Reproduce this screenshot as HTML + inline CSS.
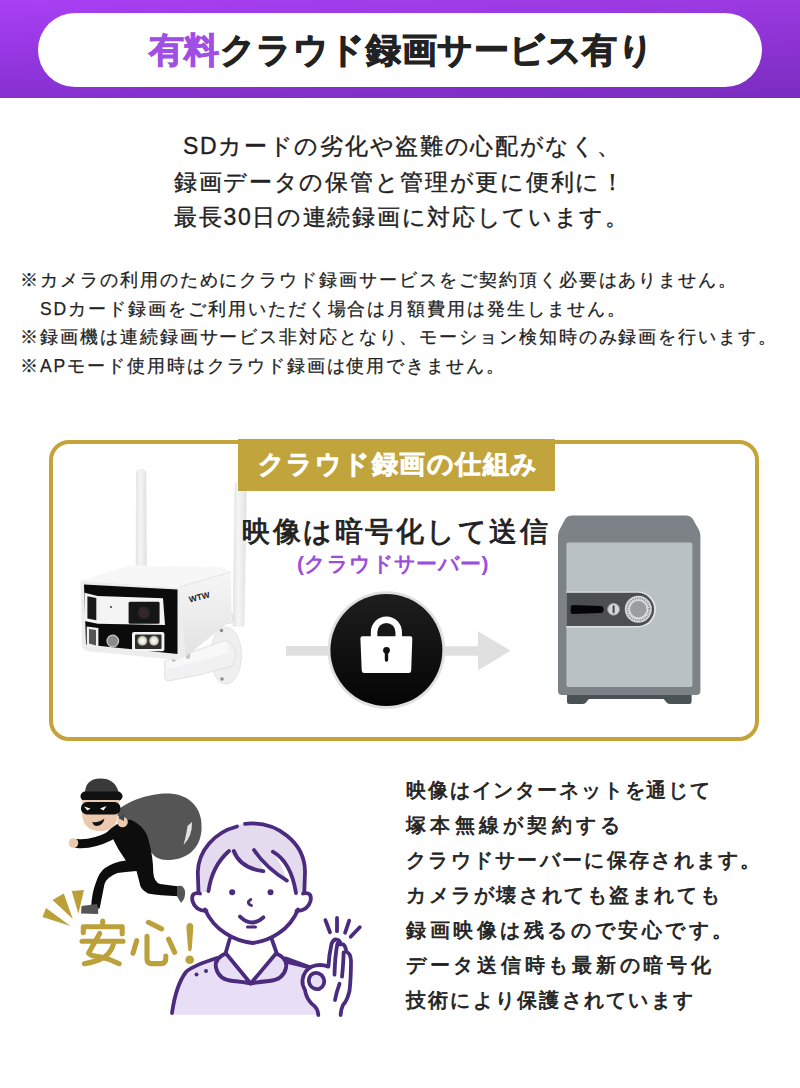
<!DOCTYPE html>
<html lang="ja"><head><meta charset="utf-8">
<style>
html,body{margin:0;padding:0;background:#fff;}
body{width:800px;height:1088px;position:relative;overflow:hidden;font-family:"Liberation Sans",sans-serif;color:#222;}
.abs{position:absolute;}
#banner{left:0;top:0;width:800px;height:98px;background:linear-gradient(to right,rgba(20,0,40,0) 0%,rgba(20,0,40,0.1) 100%),linear-gradient(to bottom,#a940f4 0%,#9a38e6 45%,#8631d0 100%);}
#pill{left:38px;top:12.5px;width:724px;height:74.5px;border-radius:38px;background:#fff;}
#title{left:148.5px;top:12px;height:76px;line-height:76px;font-size:35px;font-weight:bold;color:#222;white-space:nowrap;letter-spacing:0.58px;-webkit-text-stroke:1px currentColor;}
#title span{color:#a04ee4;}
.p1{font-size:23px;letter-spacing:1.7px;white-space:nowrap;color:#222;-webkit-text-stroke:0.35px #222;}
.note{left:20px;font-size:17.5px;letter-spacing:1.95px;white-space:nowrap;color:#222;-webkit-text-stroke:0.25px #222;}
#box{left:49px;top:439.5px;width:702px;height:293.5px;border:4px solid #c4a43a;border-radius:20px;}
#tab{left:238px;top:439px;width:316.5px;height:51.5px;background:#c2a43c;color:#fff;font-size:26px;font-weight:normal;-webkit-text-stroke:1.7px #fff;line-height:51px;text-indent:19.5px;letter-spacing:1.5px;white-space:nowrap;}
#enc{left:242px;top:512.5px;font-size:28px;font-weight:normal;-webkit-text-stroke:0.9px #222;letter-spacing:2.5px;white-space:nowrap;color:#222;}
#srv{left:297px;top:550px;font-size:21px;letter-spacing:0.4px;font-weight:bold;white-space:nowrap;color:#9b4ddb;}
.r{left:406px;font-size:20px;font-weight:normal;white-space:nowrap;color:#222;letter-spacing:0.9px;-webkit-text-stroke:0.75px #222;}
#anshin{left:77px;top:910px;font-size:52px;font-weight:bold;color:#bba03a;white-space:nowrap;}
</style></head><body>
<div id="banner" class="abs"></div>
<div id="pill" class="abs"></div>
<div id="title" class="abs"><span>有料</span>クラウド録画サービス有り</div>

<div class="abs p1" style="top:131px;left:183px">SDカードの劣化や盗難の心配がなく、</div>
<div class="abs p1" style="top:166.8px;left:174px">録画データの保管と管理が更に便利に！</div>
<div class="abs p1" style="top:201.8px;left:174px">最長30日の連続録画に対応しています。</div>

<div class="abs note" style="top:268px">※カメラの利用のためにクラウド録画サービスをご契約頂く必要はありません。</div>
<div class="abs note" style="top:296.7px">　SDカード録画をご利用いただく場合は月額費用は発生しません。</div>
<div class="abs note" style="top:325.4px">※録画機は連続録画サービス非対応となり、モーション検知時のみ録画を行います。</div>
<div class="abs note" style="top:354.1px">※APモード使用時はクラウド録画は使用できません。</div>

<div id="box" class="abs"></div>
<svg id="gfx" class="abs" style="left:0;top:0" width="800" height="1088" viewBox="0 0 800 1088">
<defs>
<linearGradient id="lockg" x1="0" y1="0" x2="0" y2="1"><stop offset="0" stop-color="#1e1e1e"/><stop offset="1" stop-color="#050505"/></linearGradient>
</defs>
<!-- camera -->
<defs>
<linearGradient id="antg" x1="0" y1="0" x2="1" y2="0"><stop offset="0" stop-color="#e2e4e6"/><stop offset="0.4" stop-color="#f4f5f7"/><stop offset="1" stop-color="#e0e2e4"/></linearGradient>
<linearGradient id="sideg" x1="0" y1="0" x2="0" y2="1"><stop offset="0" stop-color="#f6f6f6"/><stop offset="1" stop-color="#e2e2e2"/></linearGradient>
<radialGradient id="ledg"><stop offset="0" stop-color="#ffffff"/><stop offset="0.6" stop-color="#e8e8d8"/><stop offset="1" stop-color="#9a9a90"/></radialGradient>
</defs>
<!-- left antenna -->
<path d="M136.5,474 Q136.5,469.5 141.2,469.5 Q146,469.5 146,474 L146.5,572 H136 Z" fill="url(#antg)" stroke="#dcdee0" stroke-width="0.5"/>
<!-- right antenna -->
<path d="M235,486 Q235.5,481 241,481 Q246.5,481.5 246.5,486 L244,626 H233 Z" fill="url(#antg)" stroke="#dcdee0" stroke-width="0.5"/>
<ellipse cx="229" cy="618" rx="4" ry="5.5" fill="#f2f2f2" stroke="#cfcfcf" stroke-width="0.7"/>
<!-- wall mount plate -->
<ellipse cx="226" cy="655.5" rx="15.5" ry="28.5" fill="#efefef" stroke="#dedede" stroke-width="0.8"/>
<circle cx="221.5" cy="630.5" r="1.7" fill="#8a8a7a"/>
<circle cx="222" cy="679" r="1.7" fill="#8a8a7a"/>
<!-- arm -->
<path d="M164.7,661.5 Q196,650 226,640 Q236,646 236,655 L232,666 Q200,676 168,681 Q164,680 164.7,675 Z" fill="#f1f1f1" stroke="#dcdcdc" stroke-width="0.8"/>
<path d="M166,662 Q196,652 226,641 L230,652 Q200,662 167,669 Z" fill="#f8f8f8"/>
<rect x="172" y="655.5" width="3.5" height="6" fill="#b5b5ad"/>
<ellipse cx="188" cy="655" rx="2.3" ry="4" fill="#c4c4bc"/>
<!-- body top -->
<polygon points="80.7,581 130,565.5 222,567 231,572 179.4,587" fill="#f7f7f7"/>
<!-- body side -->
<polygon points="179.4,587 231,572 231.5,620 185.3,657" fill="url(#sideg)"/>
<line x1="179.4" y1="587" x2="231" y2="572" stroke="#dedede" stroke-width="0.8"/>
<!-- front rim -->
<polygon points="80.5,581 179.5,587.5 185.3,657 178,660 86,651 82,647" fill="#ededed"/>
<!-- black face -->
<polygon points="84,584.6 177.5,589.4 177.5,654 86,644.4" fill="#0b0b0b"/>
<!-- upper white panel -->
<polygon points="84.6,592.8 97.7,596 163,598.3 165,625 97.7,623.8 84.6,621" fill="#f4f4f4"/>
<rect x="128.6" y="601.8" width="31" height="22" rx="1.5" fill="#161616"/>
<circle cx="143.8" cy="612.8" r="6" fill="#2a2a2a"/>
<circle cx="143.8" cy="612.8" r="2.5" fill="#4a2020"/>
<polygon points="87.4,596.3 96.3,598 96.3,620.3 87.4,618.5" fill="#1a1a1a"/>
<circle cx="111" cy="607" r="0.9" fill="#222"/>
<!-- lower -->
<polygon points="86.7,626.5 98.4,628 98.4,648.5 86.7,646" fill="#f0f0f0"/>
<polygon points="89,629 96,630 96,645.5 89,643.5" fill="#555"/>
<circle cx="112.8" cy="641" r="5.8" fill="#8b8b8b" stroke="#c9c9c9" stroke-width="1.2"/>
<rect x="132" y="632" width="32.4" height="19.3" rx="2" fill="#f3f3f3"/>
<rect x="135" y="634.5" width="26.5" height="14.5" rx="1" fill="#2d2d2d"/>
<circle cx="142.4" cy="640.8" r="5" fill="url(#ledg)"/>
<circle cx="154" cy="640.8" r="5" fill="url(#ledg)"/>
<text x="188" y="601" font-family="Liberation Sans" font-weight="bold" font-size="8.5" fill="#222" transform="rotate(-14 195 595)">WTW</text>
<!-- rays -->
<polygon points="42.5,917 46,908 70.5,926" fill="#bba03a"/>
<polygon points="52.5,900 63.8,893.5 72.8,919" fill="#bba03a"/>
<polygon points="71.7,891 84,890 78.4,913.8" fill="#bba03a"/>
<!-- anshin -->
<g fill="none" stroke="#bca13b" stroke-width="5.1" stroke-linecap="round" stroke-linejoin="round">
<path d="M102.7,921 L102.7,923.3"/>
<path d="M83.3,932.6 L83.3,926.8 L122.2,926.8 L122.2,933.7"/>
<path d="M82.1,941.3 L123,941.3"/>
<path d="M99.7,933.4 L88.5,953.2 Q91,956 99.7,956.8 Q110,959 119.2,963.7"/>
<path d="M113.2,945 Q110,955 100,959.5 Q92,962.5 84.4,963.7"/>
<path d="M148.4,922.3 L161.6,928.9"/>
<path d="M136.7,940.6 L133,953.2"/>
<path d="M147,936.4 L147,959 Q147,963.6 151.5,963.6 L161,963.6 Q165.8,963.6 165.8,958 L165.8,956"/>
<path d="M168.6,939.2 L174.7,952.3"/>
</g>
<path d="M186.4,927.5 Q186.4,923 189.9,923 Q193.4,923 193.3,927.5 L191.8,948.5 Q191.5,951.2 189.9,951.2 Q188.2,951.2 188,948.5 Z" fill="#bca13b"/>
<circle cx="189.7" cy="959.8" r="4.3" fill="#bca13b"/>
<!-- thief -->
<g id="thief">
<!-- bag -->
<path d="M114,814 C128,798 158,792 172,793.8 C192,796 203,810 201.5,830 C200,850 186,860 167,860 C152,860 148,848 146,838 C140,826 128,822 114,814 Z" fill="#555555"/>
<path d="M192,822 Q192.5,836 183.5,845 Q186.5,834 187.5,826 Z" fill="#e2e2e2"/>
<!-- torso -->
<path d="M106,833 Q116,822 130,819.5 Q146,826 149,842 Q153,856 153.3,872.8 Q154,882 160,884 L179.4,886.5 L178.5,896.2 Q160,895.5 148,893.4 Q140,889 139.5,882.4 L136.5,871 Q125,872 117.5,873 Q107,877 104.5,884 L99.6,908.5 L91,908.5 Q92,892 95.5,883.8 Q99,872 105,868 Q113,862 125.8,860.4 Q118,850 112,837 Z" fill="#0d0d0d"/>
<!-- back arm -->
<path d="M77,843.5 Q92,845 110,836" fill="none" stroke="#0d0d0d" stroke-width="9" stroke-linecap="round"/>
<circle cx="73.5" cy="843" r="4.8" fill="#ebc9ae"/>
<path d="M81.5,906 L97,904 Q99,909 98,914 L81,913.5 Z" fill="#555"/>
<path d="M177,886.5 Q183,884 185,891 Q186,898 181,903 L177,896 Z" fill="#555"/>
<!-- head -->
<path d="M82,812 Q82,831 100,831 Q118,831 118,812 Z" fill="#ebc9ae"/>
<path d="M85,792 Q86,778.5 100.5,778.5 Q115,778.5 118.5,792 Z" fill="#3a3a3a"/>
<rect x="80.5" y="791.5" width="42" height="9.5" rx="4.7" fill="#111"/>
<rect x="82" y="800" width="37" height="3" fill="#ebc9ae"/>
<rect x="81" y="802" width="39.5" height="12.5" rx="6" fill="#0d0d0d"/>
<polygon points="84,806.5 90.5,808.5 87.5,810.5" fill="#fff"/>
<polygon points="106.5,806 100,808.5 103.5,810.5" fill="#fff"/>
<path d="M92,822 Q99,823 104.5,818.5 Q103,826 96,826 Q93,825 92,822 Z" fill="#111"/>
<circle cx="122.5" cy="822" r="5.3" fill="#ebc9ae"/>
<path d="M118,818 L124,814 L124,821 Z" fill="#444"/>
</g>
<!-- woman -->
<g id="woman" stroke="#4b2b7e" stroke-width="3.8" stroke-linecap="round" stroke-linejoin="round">
<!-- body -->
<path d="M172,1014.8 Q176,985 186,972 Q192,966 217,958 L226,953 L276,953 L287,961 Q300,965 312,968 L304,980 Q306,996 318,1008 L319,1014.8 Z" fill="#e8def6" stroke="none"/>
<path d="M172,1013 Q176,985 186,972 Q192,966 217,958" fill="none"/>
<path d="M287,962 Q300,965 311,968" fill="none"/>
<!-- neck -->
<path d="M229.5,938 L225.5,954 L250.7,982 L276,954 L272,938 Z" fill="#fff" stroke="none"/>
<path d="M229.7,939 L225.5,953.5" fill="none"/>
<path d="M271.7,939 L277,954" fill="none"/>
<!-- collar petals -->
<path d="M226,953.5 Q214,958 216,968 Q219,980 233,981 Q244,982 250.7,983.5 Z" fill="#e8def6"/>
<path d="M276,953.5 Q288,958 286,968 Q283,980 269,981 Q258,982 250.7,983.5 Z" fill="#e8def6"/>
<circle cx="196.5" cy="974.6" r="2" fill="#4b2b7e" stroke="none"/>
<circle cx="206" cy="971" r="2" fill="#4b2b7e" stroke="none"/>
<!-- hair back -->
<path d="M197.5,892 L197.5,872 A53.8,48.5 0 0 1 305.2,872 L304.8,892 Z" fill="#e4dbef" stroke="none"/>
<path d="M198.5,893 L197.8,872 A53.8,48.5 0 0 1 237,826.5" fill="none"/>
<path d="M245,823.8 A53.8,48.5 0 0 1 305,872 L304.3,893" fill="none"/>
<!-- face -->
<path d="M208.5,891 Q212,866 229,851 Q240,868 263.4,871.2 Q262,862 254,850 Q266,868 286.9,880.6 Q281,862 272.8,851.7 Q291,862 296,893 L297,910 C290,930 270,941 252.5,943 C234,941 214,930 206,910 Z" fill="#fff" stroke="none"/>
<path d="M208.5,891 Q212,866 229,851" fill="none"/>
<path d="M233.8,851 Q240,868 263.4,871.2" fill="none"/>
<path d="M254,850 Q266,868 286.9,880.6" fill="none"/>
<path d="M272.8,851.7 Q291,862 296,893" fill="none"/>
<!-- ears -->
<path d="M200,893.5 Q190.5,891.5 192.5,901 Q195,910.5 206.5,911" fill="#fff"/>
<path d="M303,893.5 Q312.5,891.5 310.5,901 Q308,910.5 296.5,911" fill="#fff"/>
<path d="M205,909.5 C214,930 234,941 252.5,943 C270,941 290,930 298,909.5" fill="none"/>
<circle cx="232.2" cy="892.3" r="3" fill="#4b2b7e" stroke="none"/>
<circle cx="270.5" cy="892.3" r="3" fill="#4b2b7e" stroke="none"/>
<path d="M250.8,899.5 Q245.5,903 251.5,905.5" fill="none" stroke-width="2.8"/>
<path d="M240,916.6 Q251.7,928 263.4,917.3" fill="none"/>
<path d="M247.5,926.9 L255.5,926.9" fill="none" stroke-width="3"/>
<!-- hand -->
<path d="M286,958.5 L312,968" fill="none"/>
<path d="M318.3,1015 Q318,1008 312,1004 Q306,998 305,990 Q302,985 302.5,980 Q304,970 312,966.5 Q320,963.5 328.4,966.6 Q329,955 331.5,944 Q333.5,938.5 337.5,939.8 Q340.5,941 340.5,944.5 Q344,943 345.5,948 L346.5,952 Q350.5,953 351,961 Q351,978 349.5,991 Q347,1001 343,1005 Q341,1009 340.6,1015 Z" fill="#fff" stroke="none"/>
<path d="M318.3,1015 Q318,1008 312,1004 Q306,998 305,990 Q302,985 302.5,980 Q304,970 312,966.5 Q320,963.5 328.4,966.6 Q329,955 331.5,944 Q333.5,938.5 337.5,939.8 Q340.5,941 340.5,944.5 Q344,943 345.5,948 L346.5,952 Q350.5,953 351,961 Q351,978 349.5,991 Q347,1001 343,1005 Q341,1009 340.6,1015" fill="none"/>
<ellipse cx="316.5" cy="981" rx="7.6" ry="8.2" transform="rotate(-25 316.5 981)" fill="#e8def6"/>
<path d="M334.5,974.7 Q335,955 337.5,943.4" fill="none"/>
<path d="M342,976.7 Q343.5,962 343.6,952.5" fill="none"/>
<path d="M339.5,983.8 Q336.5,992 335,1000" fill="none"/>
<path d="M325.4,920.1 L330,932.2" fill="none"/>
<path d="M337,918 L337,931.2" fill="none"/>
<path d="M349.2,920.6 L345.1,932.75" fill="none"/>
<path d="M359.8,927.2 L350.7,936.8" fill="none"/>
</g>
<!-- arrows -->
<rect x="286" y="646" width="44" height="9.7" fill="#e0e0e0"/>
<rect x="443" y="646.2" width="36" height="9.5" fill="#e0e0e0"/>
<polygon points="478,631.2 510.6,650.6 478,670.6" fill="#e0e0e0"/>
<!-- lock circle -->
<circle cx="386.4" cy="650.1" r="58.8" fill="#e0e0e0"/>
<circle cx="386.4" cy="650.1" r="56" fill="url(#lockg)"/>
<path d="M374.1,637 V632 A12.3,12.3 0 0 1 398.7,632 V637" fill="none" stroke="#fff" stroke-width="6.5"/>
<path d="M362.5,636.3 H410.3 Q412.5,636.3 412.3,638.5 L411.2,670.5 Q411.1,673 408.6,673 H364.3 Q361.8,673 361.7,670.5 L360.4,638.5 Q360.3,636.3 362.5,636.3 Z" fill="#fff"/>
<circle cx="386.5" cy="650.3" r="3.4" fill="#111"/>
<rect x="384.8" y="650" width="3.4" height="11.8" rx="1.7" fill="#111"/>
<!-- safe -->
<path d="M572,515.4 H686 Q690,515.4 692.5,518.5 L699,530 Q700.4,533 700.4,536 V691 Q700.4,695 696.4,695 H562 Q558,695 558,691 V536 Q558,533 559.4,530 L565.5,518.5 Q568,515.4 572,515.4 Z" fill="#7c8286"/>
<rect x="566.4" y="542.6" width="126" height="144.4" rx="2" fill="#b9c1c5"/>
<path d="M566.4,591.4 H638 A18,18 0 0 1 638,627.4 H566.4 Z" fill="#dfe3e5"/>
<path d="M566.4,592.8 H637.5 A16.6,16.6 0 0 1 637.5,626 H566.4 Z" fill="#4b4f52"/>
<path d="M572.5,605 L601,606 Q603.6,606.3 603.6,609.5 Q603.6,612.7 601,613 L572.5,614 Q570.6,614 570.6,609.5 Q570.6,605 572.5,605 Z" fill="#050505"/>
<circle cx="613.6" cy="609.3" r="6" fill="#d4d7d9" stroke="#8a8e90" stroke-width="1"/>
<rect x="612.6" y="605.3" width="2" height="8" rx="1" fill="#444"/>
<circle cx="638.3" cy="609.3" r="13.5" fill="#d7dadc"/>
<circle cx="638.3" cy="609.3" r="11" fill="none" stroke="#8f9496" stroke-width="2" stroke-dasharray="1.2 1.2"/>
<circle cx="638.3" cy="609.3" r="8.2" fill="#9a9ea1"/>
<path d="M567,695 H691.6 V701.5 Q691.6,704 689,704 H670 Q667,704 665,700.5 L663.5,699 H589 L587.5,700.5 Q585.5,704 582.5,704 H569.5 Q567,704 567,701.5 Z" fill="#4a5255"/>
</svg>

<div id="tab" class="abs">クラウド録画の仕組み</div>
<div id="enc" class="abs">映像は暗号化して送信</div>
<div id="srv" class="abs">(クラウドサーバー)</div>

<div class="abs r" style="top:777px;letter-spacing:1.86px">映像はインターネットを通じて</div>
<div class="abs r" style="top:812px;letter-spacing:4.28px">塚本無線が契約する</div>
<div class="abs r" style="top:847px;letter-spacing:2.30px">クラウドサーバーに保存されます。</div>
<div class="abs r" style="top:882px;letter-spacing:2.59px">カメラが壊されても盗まれても</div>
<div class="abs r" style="top:917px;letter-spacing:3.57px">録画映像は残るので安心です。</div>
<div class="abs r" style="top:952px;letter-spacing:3.73px">データ送信時も最新の暗号化</div>
<div class="abs r" style="top:987px;letter-spacing:2.23px">技術により保護されています</div>

</body></html>
